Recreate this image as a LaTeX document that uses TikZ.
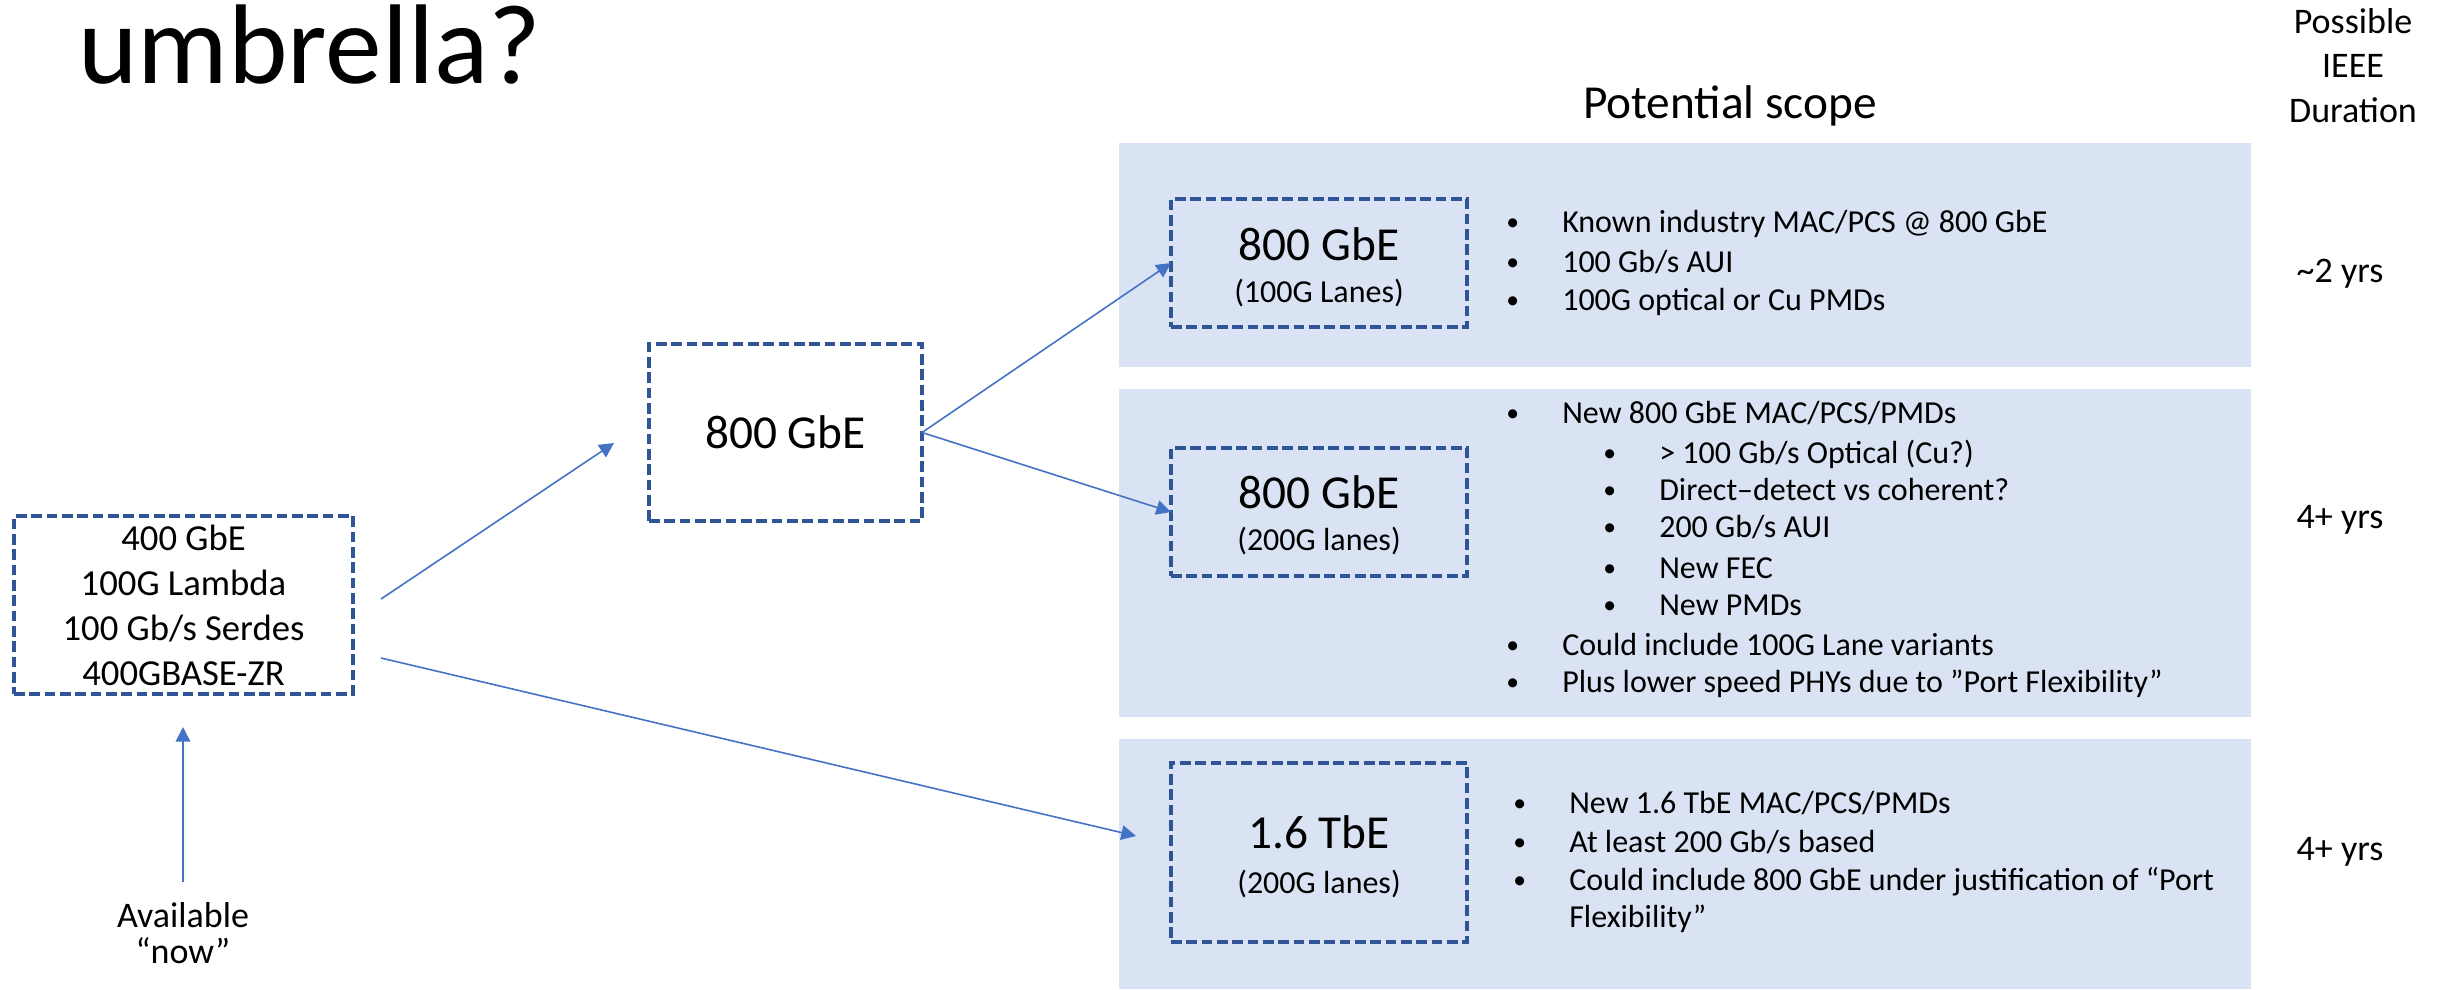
\documentclass[tikz,border=0pt]{standalone}
\usepackage{fontspec}
\setmainfont{Carlito}
\usetikzlibrary{arrows.meta}
\definecolor{panelfill}{HTML}{DAE3F3}
\definecolor{boxline}{HTML}{2F5597}
\definecolor{flow}{HTML}{4472C4}
\newcommand{\fsz}[2]{\fontsize{#1pt}{#2pt}\selectfont}
\newcommand{\dotmark}{\makebox[42pt][l]{\raisebox{1pt}{\scalebox{0.8}{•}}}}
\tikzset{
  dashbox/.style={draw=boxline, line width=2.6pt, dash pattern=on 8pt off 3.5pt,
    inner sep=0pt, outer sep=0pt},
  flowline/.style={draw=flow, line width=1.2pt, -{Triangle[length=11pt,width=11pt]}},
  txt/.style={inner sep=0pt, anchor=base},
  item/.style={inner sep=0pt, anchor=base west, font=\fsz{24}{28}},
  big/.style={font=\fsz{35.5}{42}},
  mid/.style={font=\fsz{27}{33}},
  small/.style={font=\fsz{24}{28}}
}
\begin{document}
\begin{tikzpicture}[x=0.75pt, y=-0.75pt]
\useasboundingbox (0,0) rectangle (2447,989);

% headings
\node[anchor=base west, inner sep=0pt, font=\fsz{85}{100}] (title) at (78,83) {umbrella?};
\node[txt, big] (scope) at (1730,118) {Potential scope};
\node[txt, mid] (durA) at (2353,33) {Possible};
\node[txt, mid] (durB) at (2353,77) {IEEE};
\node[txt, mid] (durC) at (2353,122) {Duration};

% scope panels
\fill[panelfill] (1119,143) rectangle (2251,367);
\fill[panelfill] (1119,389) rectangle (2251,717);
\fill[panelfill] (1119,739) rectangle (2251,989);

% today's technology
\node[dashbox, minimum width=254.25pt, minimum height=133.5pt, align=center,
      font=\fsz{27.5}{33.75}] (now400) at (183.5,605)
  {400 GbE\\100G Lambda\\100 Gb/s Serdes\\400GBASE-ZR};
\node[txt, mid] (avail) at (183,927) {Available};
\node[txt, mid] (availb) at (183,963) {“now”};

% next step
\node[dashbox, minimum width=204.75pt, minimum height=132.75pt, big] (mid800) at (785.5,432.5) {800 GbE};

% candidate projects
\node[dashbox, minimum width=222pt, minimum height=96pt] (b800a) at (1319,263) {};
\node[txt, big] (b800at) at (1319,260) {800 GbE};
\node[txt, small] (b800as) at (1319,302) {(100G Lanes)};

\node[dashbox, minimum width=222pt, minimum height=96pt] (b800b) at (1319,512) {};
\node[txt, big] (b800bt) at (1319,508) {800 GbE};
\node[txt, small] (b800bs) at (1319,550) {(200G lanes)};

\node[dashbox, minimum width=222pt, minimum height=134.25pt] (b16) at (1319,852.5) {};
\node[txt, big] (b16t) at (1319,848) {1.6 TbE};
\node[txt, small] (b16s) at (1319,893) {(200G lanes)};

% scope bullets, 800 GbE with 100G lanes
\node[item] (pa1) at (1506,232) {\dotmark Known industry MAC/PCS @ 800 GbE};
\node[item] (pa2) at (1506,272) {\dotmark 100 Gb/s AUI};
\node[item] (pa3) at (1506,310) {\dotmark 100G optical or Cu PMDs};

% scope bullets, 800 GbE with 200G lanes
\node[item] (pb1) at (1506,423) {\dotmark New 800 GbE MAC/PCS/PMDs};
\node[item] (pb2) at (1603,463) {\dotmark > 100 Gb/s Optical (Cu?)};
\node[item] (pb3) at (1603,500) {\dotmark Direct–detect vs coherent?};
\node[item] (pb4) at (1603,537) {\dotmark 200 Gb/s AUI};
\node[item] (pb5) at (1603,578) {\dotmark New FEC};
\node[item] (pb6) at (1603,615) {\dotmark New PMDs};
\node[item] (pb7) at (1506,655) {\dotmark Could include 100G Lane variants};
\node[item] (pb8) at (1506,692) {\dotmark Plus lower speed PHYs due to ”Port Flexibility”};

% scope bullets, 1.6 TbE
\node[item] (pc1) at (1513,813) {\dotmark New 1.6 TbE MAC/PCS/PMDs};
\node[item] (pc2) at (1513,852) {\dotmark At least 200 Gb/s based};
\node[item] (pc3) at (1513,890) {\dotmark Could include 800 GbE under justification of “Port};
\node[item] (pc4) at (1569,927) {Flexibility”};

% durations
\node[txt, mid] (d1) at (2340,282) {\textasciitilde2 yrs};
\node[txt, mid] (d2) at (2340,528) {4+ yrs};
\node[txt, mid] (d3) at (2340,860) {4+ yrs};

% connectors
\coordinate (s1) at (381,599);
\coordinate (e1) at (614,443);
\coordinate (s2) at (381,658);
\coordinate (e2) at (1136,836);
\coordinate (s3) at (183,882);
\coordinate (e3) at (183,727);
\draw[flowline] (s1) -- (e1);
\draw[flowline] (s2) -- (e2);
\draw[flowline] (s3) -- (e3);
\draw[flowline] (mid800.east) -- (b800a.west);
\draw[flowline] (mid800.east) -- (b800b.west);
\end{tikzpicture}
\end{document}
